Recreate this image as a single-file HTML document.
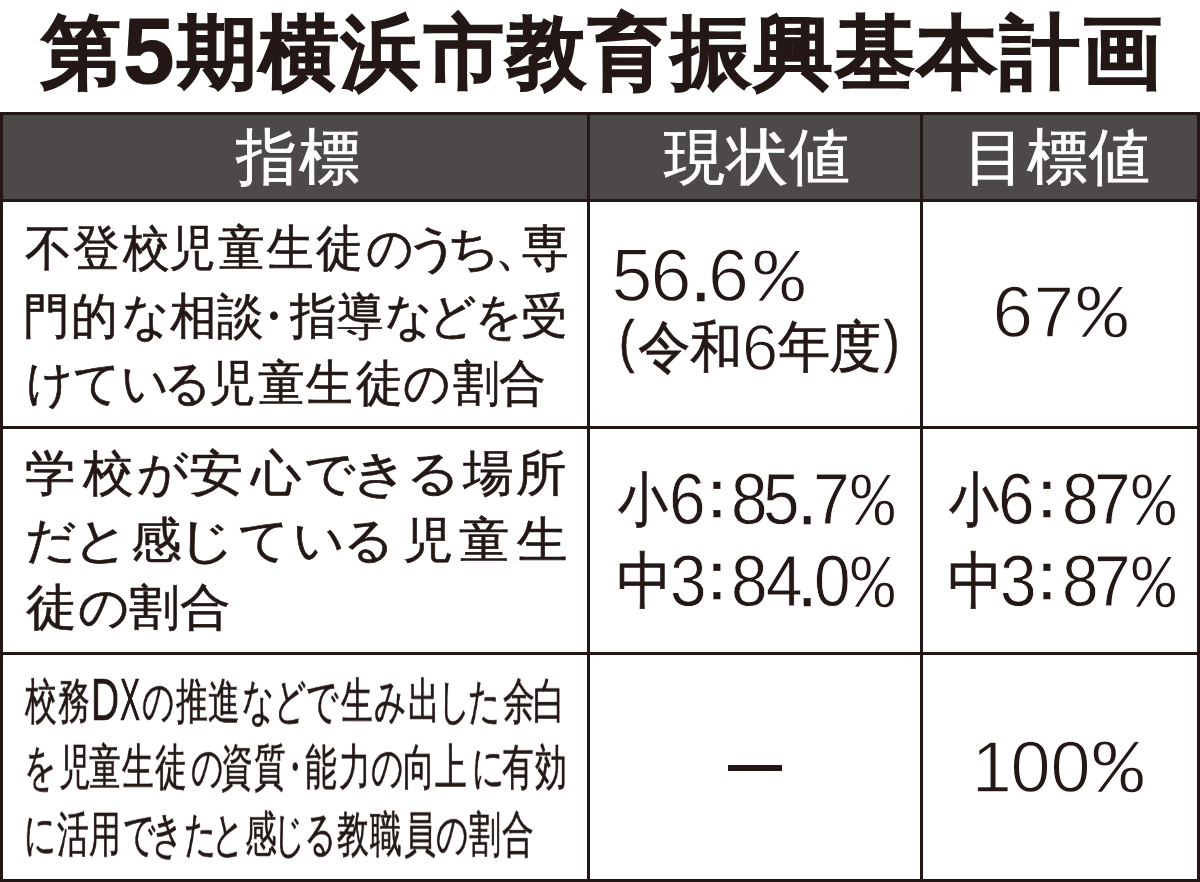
<!DOCTYPE html>
<html lang="ja">
<head>
<meta charset="utf-8">
<title>第5期横浜市教育振興基本計画</title>
<style>
html,body{margin:0;padding:0;background:#fff;}
body{width:1200px;height:882px;position:relative;overflow:hidden;font-family:"Liberation Sans",sans-serif;color:#231815;}
.t{position:absolute;white-space:nowrap;line-height:1;}
.title{left:41px;top:13px;font-size:80px;line-height:80px;font-weight:bold;letter-spacing:2.3px;-webkit-text-stroke:1.2px #231815;}
.title span{font-size:92px;line-height:0;vertical-align:-3px;}
.hd{position:absolute;left:0;top:112px;width:1200px;height:90px;background:#4d4948;}
.ln{position:absolute;background:#231815;}
.h{color:#fff;font-size:61px;top:127px;letter-spacing:1.5px;-webkit-text-stroke:0.8px #fff;}
.c1 span,.c2 span{position:absolute;white-space:nowrap;line-height:1;transform-origin:0 0;}
.c1 span,.c2 span{-webkit-text-stroke:0.6px #231815;}
.c1 span{will-change:transform;}
.c2 span.d{-webkit-text-stroke:1.3px #fff;}
.c2 span.d2{-webkit-text-stroke:0.8px #fff;}
.c2 span.p{font-family:"Liberation Mono",monospace;-webkit-text-stroke:1.4px #fff;}
</style>
</head>
<body>
<div class="t title">第<span>5</span>期横浜市教育振興基本計画</div>

<div class="hd"></div>
<div class="ln" style="left:0;top:112px;width:1200px;height:3px"></div>
<div class="ln" style="left:0;top:199px;width:1200px;height:3px"></div>
<div class="ln" style="left:0;top:426px;width:1200px;height:3px"></div>
<div class="ln" style="left:0;top:652px;width:1200px;height:3px"></div>
<div class="ln" style="left:0;top:879px;width:1200px;height:3px"></div>
<div class="ln" style="left:0;top:112px;width:3px;height:770px"></div>
<div class="ln" style="left:587px;top:112px;width:3px;height:770px"></div>
<div class="ln" style="left:920px;top:112px;width:3px;height:770px"></div>
<div class="ln" style="left:1197px;top:112px;width:3px;height:770px"></div>

<div class="t h" style="left:236px">指標</div>
<div class="t h" style="left:664px">現状値</div>
<div class="t h" style="left:964px">目標値</div>

<div class="c1">
<span style="left:25.1px;top:223.1px;font-size:47px;transform:scale(1.000,1.050);">不</span>
<span style="left:73.1px;top:223.1px;font-size:47px;transform:scale(1.000,1.050);">登</span>
<span style="left:122.5px;top:223.1px;font-size:47px;transform:scale(1.000,1.050);">校</span>
<span style="left:168.7px;top:223.1px;font-size:47px;transform:scale(1.000,1.050);">児</span>
<span style="left:218.1px;top:223.1px;font-size:47px;transform:scale(1.000,1.050);">童</span>
<span style="left:266.5px;top:223.1px;font-size:47px;transform:scale(1.000,1.050);">生</span>
<span style="left:315.5px;top:223.1px;font-size:47px;transform:scale(1.000,1.050);">徒</span>
<span style="left:365.6px;top:223.1px;font-size:47px;transform:scale(1.000,1.050);">の</span>
<span style="left:405.0px;top:223.1px;font-size:47px;transform:scale(1.180,1.050);">う</span>
<span style="left:447.2px;top:223.1px;font-size:47px;transform:scale(1.120,1.050);">ち</span>
<span style="left:495.3px;top:223.1px;font-size:47px;transform:scale(1.000,1.050);">、</span>
<span style="left:521.6px;top:223.1px;font-size:47px;transform:scale(1.000,1.050);">専</span>
<span style="left:23.2px;top:291.1px;font-size:47px;transform:scale(1.000,1.050);">門</span>
<span style="left:70.7px;top:291.1px;font-size:47px;transform:scale(1.000,1.050);">的</span>
<span style="left:121.7px;top:291.1px;font-size:47px;transform:scale(1.000,1.050);">な</span>
<span style="left:169.5px;top:291.1px;font-size:47px;transform:scale(1.000,1.050);">相</span>
<span style="left:217.0px;top:291.1px;font-size:47px;transform:scale(1.000,1.050);">談</span>
<span style="left:249.8px;top:291.1px;font-size:47px;transform:scale(1.000,1.050);">・</span>
<span style="left:290.0px;top:291.1px;font-size:47px;transform:scale(1.000,1.050);">指</span>
<span style="left:336.6px;top:291.1px;font-size:47px;transform:scale(1.000,1.050);">導</span>
<span style="left:385.1px;top:291.1px;font-size:47px;transform:scale(1.000,1.050);">な</span>
<span style="left:428.5px;top:291.1px;font-size:47px;transform:scale(1.000,1.050);">ど</span>
<span style="left:474.8px;top:291.1px;font-size:47px;transform:scale(1.000,1.050);">を</span>
<span style="left:520.6px;top:291.1px;font-size:47px;transform:scale(1.000,1.050);">受</span>
<span style="left:25.7px;top:358.1px;font-size:47px;transform:scale(1.000,1.050);">け</span>
<span style="left:73.1px;top:358.1px;font-size:47px;transform:scale(1.000,1.050);">て</span>
<span style="left:120.8px;top:358.1px;font-size:47px;transform:scale(1.000,1.050);">い</span>
<span style="left:164.4px;top:358.1px;font-size:47px;transform:scale(1.000,1.050);">る</span>
<span style="left:208.7px;top:358.1px;font-size:47px;transform:scale(1.000,1.050);">児</span>
<span style="left:258.1px;top:358.1px;font-size:47px;transform:scale(1.000,1.050);">童</span>
<span style="left:306.0px;top:358.1px;font-size:47px;transform:scale(1.000,1.050);">生</span>
<span style="left:355.5px;top:358.1px;font-size:47px;transform:scale(1.000,1.050);">徒</span>
<span style="left:403.1px;top:358.1px;font-size:47px;transform:scale(1.000,1.050);">の</span>
<span style="left:453.1px;top:358.1px;font-size:47px;transform:scale(1.000,1.050);">割</span>
<span style="left:499.1px;top:358.1px;font-size:47px;transform:scale(1.000,1.050);">合</span>
<span style="left:24.5px;top:447.6px;font-size:47px;transform:scale(1.080,1.050);">学</span>
<span style="left:82.5px;top:447.6px;font-size:47px;transform:scale(1.080,1.050);">校</span>
<span style="left:137.0px;top:447.6px;font-size:47px;transform:scale(1.080,1.050);">が</span>
<span style="left:188.8px;top:447.6px;font-size:47px;transform:scale(1.166,1.050);">安</span>
<span style="left:250.5px;top:447.6px;font-size:47px;transform:scale(1.080,1.050);">心</span>
<span style="left:303.5px;top:447.6px;font-size:47px;transform:scale(1.080,1.050);">で</span>
<span style="left:351.4px;top:447.6px;font-size:47px;transform:scale(1.220,1.050);">き</span>
<span style="left:406.0px;top:447.6px;font-size:47px;transform:scale(1.145,1.050);">る</span>
<span style="left:462.5px;top:447.6px;font-size:47px;transform:scale(1.080,1.050);">場</span>
<span style="left:516.0px;top:447.6px;font-size:47px;transform:scale(1.080,1.050);">所</span>
<span style="left:25.4px;top:514.6px;font-size:47px;transform:scale(1.080,1.050);">だ</span>
<span style="left:73.0px;top:514.6px;font-size:47px;transform:scale(1.188,1.050);">と</span>
<span style="left:130.5px;top:514.6px;font-size:47px;transform:scale(1.080,1.050);">感</span>
<span style="left:176.7px;top:514.6px;font-size:47px;transform:scale(1.231,1.050);">じ</span>
<span style="left:238.0px;top:514.6px;font-size:47px;transform:scale(1.080,1.050);">て</span>
<span style="left:293.4px;top:514.6px;font-size:47px;transform:scale(1.080,1.050);">い</span>
<span style="left:342.9px;top:514.6px;font-size:47px;transform:scale(1.080,1.050);">る</span>
<span style="left:402.5px;top:514.6px;font-size:47px;transform:scale(1.080,1.050);">児</span>
<span style="left:459.0px;top:514.6px;font-size:47px;transform:scale(1.080,1.050);">童</span>
<span style="left:517.0px;top:514.6px;font-size:47px;transform:scale(1.080,1.050);">生</span>
<span style="left:25.5px;top:581.6px;font-size:47px;transform:scale(1.080,1.050);">徒</span>
<span style="left:78.0px;top:581.6px;font-size:47px;transform:scale(1.080,1.050);">の</span>
<span style="left:129.0px;top:581.6px;font-size:47px;transform:scale(1.080,1.050);">割</span>
<span style="left:180.0px;top:581.6px;font-size:47px;transform:scale(1.080,1.050);">合</span>
<span style="left:25.3px;top:675.8px;font-size:47px;transform:scale(0.680,1.050);">校</span>
<span style="left:58.4px;top:675.8px;font-size:47px;transform:scale(0.680,1.050);">務</span>
<span style="left:91.1px;top:670.7px;font-size:59px;transform:scale(0.660,1.000);">D</span>
<span style="left:120.1px;top:670.7px;font-size:59px;transform:scale(0.510,1.000);">X</span>
<span style="left:142.0px;top:675.8px;font-size:47px;transform:scale(0.680,1.050);">の</span>
<span style="left:175.7px;top:675.8px;font-size:47px;transform:scale(0.680,1.050);">推</span>
<span style="left:208.0px;top:675.8px;font-size:47px;transform:scale(0.680,1.050);">進</span>
<span style="left:242.4px;top:675.8px;font-size:47px;transform:scale(0.680,1.050);">な</span>
<span style="left:273.9px;top:675.8px;font-size:47px;transform:scale(0.680,1.050);">ど</span>
<span style="left:305.9px;top:675.8px;font-size:47px;transform:scale(0.680,1.050);">で</span>
<span style="left:340.7px;top:675.8px;font-size:47px;transform:scale(0.680,1.050);">生</span>
<span style="left:373.7px;top:675.8px;font-size:47px;transform:scale(0.680,1.050);">み</span>
<span style="left:408.1px;top:675.8px;font-size:47px;transform:scale(0.680,1.050);">出</span>
<span style="left:438.0px;top:675.8px;font-size:47px;transform:scale(0.680,1.050);">し</span>
<span style="left:468.1px;top:675.8px;font-size:47px;transform:scale(0.680,1.050);">た</span>
<span style="left:503.4px;top:675.8px;font-size:47px;transform:scale(0.680,1.050);">余</span>
<span style="left:532.8px;top:675.8px;font-size:47px;transform:scale(0.680,1.050);">白</span>
<span style="left:24.0px;top:742.1px;font-size:47px;transform:scale(0.680,1.050);">を</span>
<span style="left:59.4px;top:742.1px;font-size:47px;transform:scale(0.680,1.050);">児</span>
<span style="left:89.4px;top:742.1px;font-size:47px;transform:scale(0.680,1.050);">童</span>
<span style="left:122.2px;top:742.1px;font-size:47px;transform:scale(0.680,1.050);">生</span>
<span style="left:154.7px;top:742.1px;font-size:47px;transform:scale(0.680,1.050);">徒</span>
<span style="left:191.2px;top:742.1px;font-size:47px;transform:scale(0.680,1.050);">の</span>
<span style="left:221.2px;top:742.1px;font-size:47px;transform:scale(0.680,1.050);">資</span>
<span style="left:253.7px;top:742.1px;font-size:47px;transform:scale(0.680,1.050);">質</span>
<span style="left:278.8px;top:742.1px;font-size:47px;transform:scale(0.680,1.050);">・</span>
<span style="left:305.4px;top:742.1px;font-size:47px;transform:scale(0.680,1.050);">能</span>
<span style="left:338.7px;top:742.1px;font-size:47px;transform:scale(0.680,1.050);">力</span>
<span style="left:371.2px;top:742.1px;font-size:47px;transform:scale(0.680,1.050);">の</span>
<span style="left:402.8px;top:742.1px;font-size:47px;transform:scale(0.680,1.050);">向</span>
<span style="left:435.4px;top:742.1px;font-size:47px;transform:scale(0.680,1.050);">上</span>
<span style="left:471.8px;top:742.1px;font-size:47px;transform:scale(0.680,1.050);">に</span>
<span style="left:501.9px;top:742.1px;font-size:47px;transform:scale(0.680,1.050);">有</span>
<span style="left:534.7px;top:742.1px;font-size:47px;transform:scale(0.680,1.050);">効</span>
<span style="left:24.3px;top:809.1px;font-size:47px;transform:scale(0.680,1.050);">に</span>
<span style="left:56.9px;top:809.1px;font-size:47px;transform:scale(0.680,1.050);">活</span>
<span style="left:89.0px;top:809.1px;font-size:47px;transform:scale(0.680,1.050);">用</span>
<span style="left:123.4px;top:809.1px;font-size:47px;transform:scale(0.680,1.050);">で</span>
<span style="left:151.2px;top:809.1px;font-size:47px;transform:scale(0.680,1.050);">き</span>
<span style="left:184.1px;top:809.1px;font-size:47px;transform:scale(0.680,1.050);">た</span>
<span style="left:212.1px;top:809.1px;font-size:47px;transform:scale(0.680,1.050);">と</span>
<span style="left:244.7px;top:809.1px;font-size:47px;transform:scale(0.680,1.050);">感</span>
<span style="left:272.6px;top:809.1px;font-size:47px;transform:scale(0.680,1.050);">じ</span>
<span style="left:303.7px;top:809.1px;font-size:47px;transform:scale(0.680,1.050);">る</span>
<span style="left:337.2px;top:809.1px;font-size:47px;transform:scale(0.680,1.050);">教</span>
<span style="left:370.0px;top:809.1px;font-size:47px;transform:scale(0.680,1.050);">職</span>
<span style="left:403.7px;top:809.1px;font-size:47px;transform:scale(0.680,1.050);">員</span>
<span style="left:436.2px;top:809.1px;font-size:47px;transform:scale(0.680,1.050);">の</span>
<span style="left:469.4px;top:809.1px;font-size:47px;transform:scale(0.680,1.050);">割</span>
<span style="left:501.9px;top:809.1px;font-size:47px;transform:scale(0.680,1.050);">合</span>
</div>
<div class="c2">
<span class="d" style="left:611.4px;top:238.9px;font-size:73.5px;">5</span>
<span class="d" style="left:650.6px;top:238.9px;font-size:73.5px;">6</span>
<span style="left:690.4px;top:238.9px;font-size:73.5px;">.</span>
<span class="d" style="left:708.0px;top:238.9px;font-size:73.5px;">6</span>
<span class="p" style="left:754.3px;top:242.9px;font-size:78.5px;transform:scale(1.070,1.000);">%</span>
<span style="left:619.2px;top:314.2px;font-size:56.5px;transform:scale(0.820,1.000);">(</span>
<span style="left:638.0px;top:319.4px;font-size:52px;transform:scale(1.000,1.070);">令</span>
<span style="left:690.2px;top:319.4px;font-size:52px;transform:scale(1.000,1.070);">和</span>
<span class="d" style="left:742.0px;top:314.7px;font-size:65px;">6</span>
<span style="left:777.5px;top:319.4px;font-size:52px;transform:scale(1.000,1.070);">年</span>
<span style="left:829.4px;top:319.4px;font-size:52px;transform:scale(1.000,1.070);">度</span>
<span style="left:883.8px;top:314.2px;font-size:56.5px;transform:scale(0.820,1.000);">)</span>
<span class="d" style="left:992.4px;top:275.1px;font-size:73px;">6</span>
<span class="d" style="left:1033.6px;top:275.1px;font-size:73px;">7</span>
<span class="p" style="left:1077.3px;top:278.9px;font-size:78.5px;transform:scale(1.070,1.000);">%</span>
<span style="left:618.3px;top:469.7px;font-size:52px;transform:scale(0.955,1.130);">小</span>
<span class="d d2" style="left:669.2px;top:462.4px;font-size:73px;transform:scale(0.900,1.000);">6</span>
<span style="left:707.8px;top:460.8px;font-size:66px;">:</span>
<span class="d d2" style="left:731.4px;top:462.4px;font-size:73px;transform:scale(0.900,1.000);">8</span>
<span class="d d2" style="left:762.9px;top:462.4px;font-size:73px;transform:scale(0.900,1.000);">5</span>
<span style="left:798.1px;top:462.4px;font-size:73px;transform:scale(0.900,1.000);">.</span>
<span class="d d2" style="left:812.7px;top:462.4px;font-size:73px;transform:scale(0.900,1.000);">7</span>
<span class="p" style="left:850.5px;top:466.4px;font-size:78px;transform:scale(0.930,1.000);">%</span>
<span style="left:616.7px;top:550.0px;font-size:52px;transform:scale(1.050,1.190);">中</span>
<span class="d d2" style="left:669.9px;top:544.4px;font-size:73px;transform:scale(0.900,1.000);">3</span>
<span style="left:707.8px;top:542.9px;font-size:66px;">:</span>
<span class="d d2" style="left:731.4px;top:544.4px;font-size:73px;transform:scale(0.900,1.000);">8</span>
<span class="d d2" style="left:765.7px;top:544.4px;font-size:73px;transform:scale(0.900,1.000);">4</span>
<span style="left:798.1px;top:544.4px;font-size:73px;transform:scale(0.900,1.000);">.</span>
<span class="d d2" style="left:813.9px;top:544.4px;font-size:73px;transform:scale(0.900,1.000);">0</span>
<span class="p" style="left:850.5px;top:548.4px;font-size:78px;transform:scale(0.930,1.000);">%</span>
<span style="left:949.0px;top:469.7px;font-size:52px;transform:scale(0.955,1.130);">小</span>
<span class="d d2" style="left:998.2px;top:462.4px;font-size:73px;transform:scale(0.900,1.000);">6</span>
<span style="left:1037.8px;top:460.8px;font-size:66px;">:</span>
<span class="d d2" style="left:1061.8px;top:462.4px;font-size:73px;transform:scale(0.900,1.000);">8</span>
<span class="d d2" style="left:1094.2px;top:462.4px;font-size:73px;transform:scale(0.900,1.000);">7</span>
<span class="p" style="left:1131.9px;top:466.4px;font-size:78px;transform:scale(0.930,1.000);">%</span>
<span style="left:948.0px;top:550.0px;font-size:52px;transform:scale(1.050,1.190);">中</span>
<span class="d d2" style="left:999.9px;top:544.4px;font-size:73px;transform:scale(0.900,1.000);">3</span>
<span style="left:1037.8px;top:542.9px;font-size:66px;">:</span>
<span class="d d2" style="left:1062.4px;top:544.4px;font-size:73px;transform:scale(0.900,1.000);">8</span>
<span class="d d2" style="left:1094.2px;top:544.4px;font-size:73px;transform:scale(0.900,1.000);">7</span>
<span class="p" style="left:1131.9px;top:548.4px;font-size:78px;transform:scale(0.930,1.000);">%</span>
<span class="d" style="left:971.7px;top:731.1px;font-size:72px;">1</span>
<span class="d" style="left:1010.4px;top:731.1px;font-size:72px;">0</span>
<span class="d" style="left:1050.4px;top:731.1px;font-size:72px;">0</span>
<span class="p" style="left:1093.3px;top:734.4px;font-size:78.5px;transform:scale(1.070,1.000);">%</span>
</div>
<div class="ln" style="left:728px;top:765px;width:54px;height:6px"></div>
</body>
</html>
